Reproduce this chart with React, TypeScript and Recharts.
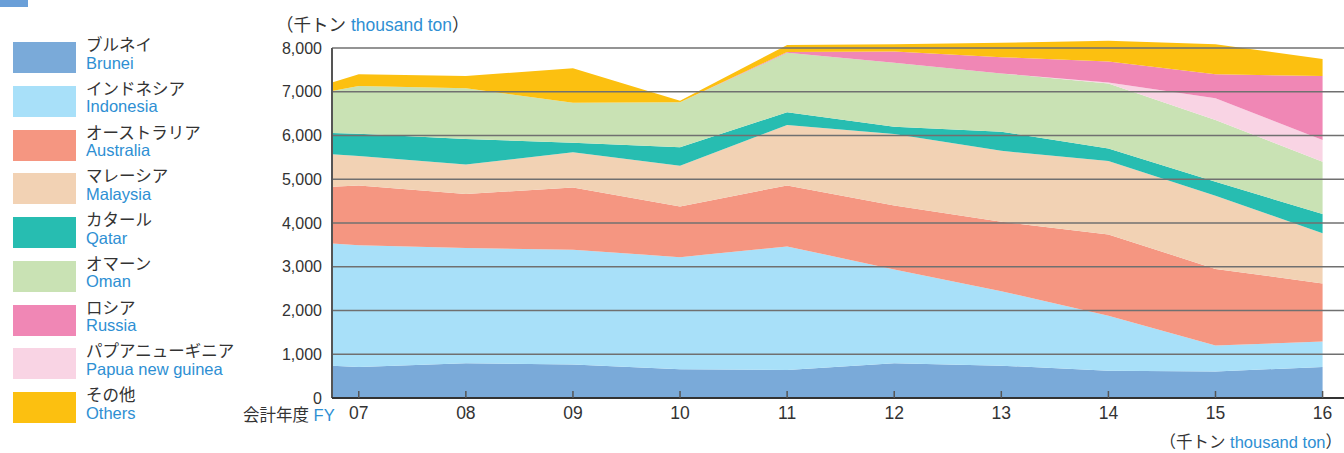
import { Area, AreaChart, ReferenceLine, XAxis, YAxis } from 'recharts';

// fiscal years; 6.75 is where the fill starts at the left axis
const years = [6.75, 7, 8, 9, 10, 11, 12, 13, 14, 15, 16];
const brunei = [740, 710, 795, 765, 660, 640, 795, 740, 625, 605, 710];
const indonesia = [2790, 2780, 2635, 2625, 2560, 2825, 2145, 1700, 1255, 595, 580];
const australia = [1300, 1365, 1235, 1420, 1155, 1395, 1460, 1590, 1860, 1750, 1330];
const malaysia = [740, 675, 670, 805, 935, 1380, 1635, 1620, 1675, 1675, 1145];
const qatar = [485, 510, 585, 220, 420, 290, 165, 435, 290, 320, 440];
const oman = [960, 1090, 1160, 915, 1030, 1360, 1465, 1335, 1485, 1410, 1195];
const papua = [0, 0, 0, 0, 0, 0, 0, 0, 20, 495, 495];
const russia = [0, 0, 0, 0, 0, 20, 255, 370, 480, 550, 1465];
const others = [195, 270, 280, 785, 35, 160, 165, 330, 475, 685, 390];

const xTicks = [7, 8, 9, 10, 11, 12, 13, 14, 15, 16];
const yTicks = [0, 1000, 2000, 3000, 4000, 5000, 6000, 7000, 8000];

const series = [
  { key: 'brunei', ja: 'ブルネイ', en: 'Brunei', color: '#7aaad9', values: brunei },
  { key: 'indonesia', ja: 'インドネシア', en: 'Indonesia', color: '#a8e0f9', values: indonesia },
  { key: 'australia', ja: 'オーストラリア', en: 'Australia', color: '#f59681', values: australia },
  { key: 'malaysia', ja: 'マレーシア', en: 'Malaysia', color: '#f2d2b4', values: malaysia },
  { key: 'qatar', ja: 'カタール', en: 'Qatar', color: '#27bdb1', values: qatar },
  { key: 'oman', ja: 'オマーン', en: 'Oman', color: '#c9e2b4', values: oman },
  { key: 'papua', ja: 'パプアニューギニア', en: 'Papua new guinea', color: '#f9d4e4', values: papua },
  { key: 'russia', ja: 'ロシア', en: 'Russia', color: '#f087b5', values: russia },
  { key: 'others', ja: 'その他', en: 'Others', color: '#fcc010', values: others },
];

// legend order differs from stacking order
const legendOrder = ['brunei', 'indonesia', 'australia', 'malaysia', 'qatar', 'oman', 'russia', 'papua', 'others'];

const data = years.map((fy, i) => {
  const row: Record<string, number> = { fy };
  series.forEach((s) => (row[s.key] = s.values[i]));
  return row;
});

const BLUE = '#2e8fd3';
const DARK = '#333';
const FONT = '"Liberation Sans", Arial, "Noto Sans CJK JP", sans-serif';

function XTick({ x, y, payload }: any) {
  return (
    <g>
      <line x1={x} x2={x} y1={y} y2={y - 7} stroke="#555" strokeWidth={1.5} />
      <text x={x} y={y + 21} textAnchor="middle" fill={DARK} fontSize={17.5}>
        {String(payload.value).padStart(2, '0')}
      </text>
    </g>
  );
}

export default function App() {
  return (
    <div style={{ position: 'absolute', left: 0, top: 0, width: 1344, height: 453, overflow: 'hidden', background: '#fff', fontFamily: FONT }}>
      <div style={{ position: 'absolute', left: 0, top: 0, width: 28, height: 7, background: '#6a9fd8' }} />

      {legendOrder.map((k, i) => {
        const s = series.find((t) => t.key === k)!;
        const top = 42 + i * 43.75;
        return (
          <div key={k}>
            <div style={{ position: 'absolute', left: 13, top, width: 63, height: 31, background: s.color }} />
            <div style={{ position: 'absolute', left: 86, top: top - 5, fontSize: 16.5, lineHeight: '17.5px', whiteSpace: 'nowrap' }}>
              <div style={{ color: DARK }}>{s.ja}</div>
              <div style={{ color: BLUE }}>{s.en}</div>
            </div>
          </div>
        );
      })}

      <div style={{ position: 'absolute', left: 276, top: 14, fontSize: 17.5, lineHeight: '22px', color: DARK, whiteSpace: 'nowrap' }}>
        （千トン <span style={{ color: BLUE }}>thousand ton</span>）
      </div>
      <div style={{ position: 'absolute', left: 243, top: 402, fontSize: 16.5, color: DARK, whiteSpace: 'nowrap' }}>
        会計年度 <span style={{ color: BLUE }}>FY</span>
      </div>
      <div style={{ position: 'absolute', right: 2, top: 433, fontSize: 16.5, lineHeight: '18px', color: DARK, whiteSpace: 'nowrap' }}>
        （千トン <span style={{ color: BLUE }}>thousand ton</span>）
      </div>

      <div style={{ position: 'absolute', left: 0, top: 0 }}>
        <AreaChart width={1344} height={453} data={data} margin={{ top: 30.5, right: 0, left: 0, bottom: 0 }}>
          <YAxis
            type="number"
            domain={[0, 8400]}
            ticks={yTicks}
            width={332}
            axisLine={false}
            tickLine={false}
            tickSize={0}
            tickMargin={10}
            tick={{ fill: DARK, fontSize: 16 }}
            tickFormatter={(v: number) => v.toLocaleString('en-US')}
          />
          {series.map((s) => (
            <Area
              key={s.key}
              dataKey={s.key}
              stackId="lng"
              type="linear"
              stroke="none"
              fill={s.color}
              fillOpacity={1}
              isAnimationActive={false}
            />
          ))}
          {yTicks.slice(1).map((v) => (
            <ReferenceLine key={v} y={v} stroke="#707070" strokeWidth={1.3} />
          ))}
          <ReferenceLine
            segment={[
              { x: 6.75, y: 0 },
              { x: 6.75, y: 8000 },
            ]}
            stroke="#555"
            strokeWidth={2}
          />
          <XAxis
            dataKey="fy"
            type="number"
            domain={[6.75, 16.2]}
            ticks={xTicks}
            height={55}
            axisLine={{ stroke: '#333', strokeWidth: 2 }}
            tickLine={false}
            tickSize={0}
            tickMargin={0}
            tick={<XTick />}
          />
        </AreaChart>
      </div>
    </div>
  );
}
